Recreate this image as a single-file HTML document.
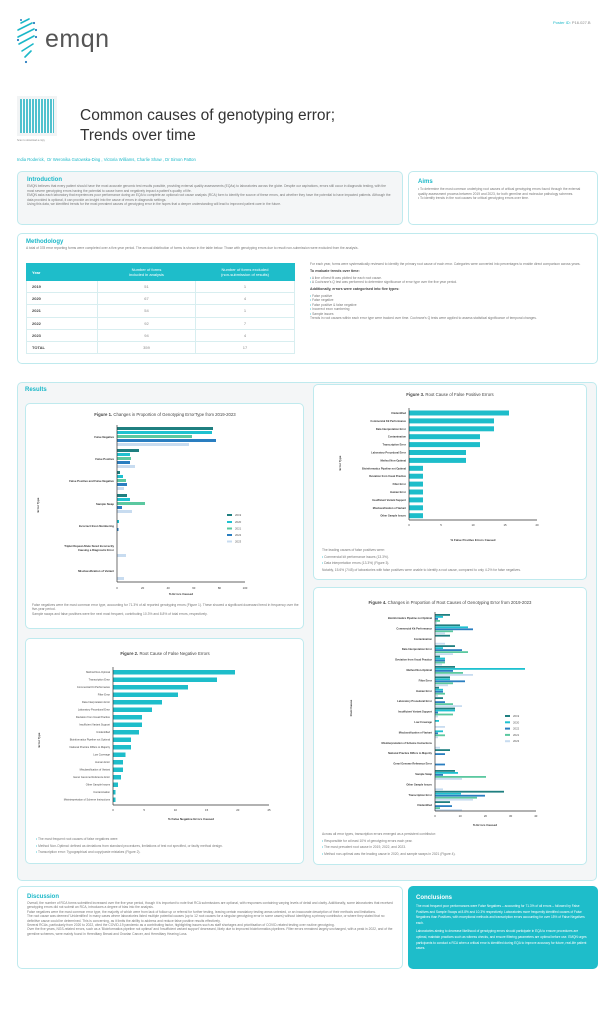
<!DOCTYPE html>
<html><head><meta charset="utf-8"><style>
*{margin:0;padding:0;box-sizing:border-box}
body{width:614px;height:1024px;background:#fff;font-family:"Liberation Sans",sans-serif;position:relative;overflow:hidden;color:#666}
.a{position:absolute}
.box{position:absolute;border:1px solid #bfeaee;border-radius:5px}
.h{color:#1bb8c8;font-weight:bold}
.t{font-size:3.3px;line-height:4.6px;color:#777}
table{border-collapse:collapse;font-size:4px}
td{border:0.5px solid #d8eef0;height:12.2px;text-align:center;color:#888}
td:first-child{text-align:left;padding-left:5px;font-weight:bold;color:#444}
</style></head><body>
<svg class="a" style="left:15px;top:17px" width="30" height="48" viewBox="0 0 30 48">
<g stroke="#1bb8c8" stroke-width="1.6" stroke-linecap="round" fill="none">
<path d="M6 6 L14 2"/><path d="M3 13 L17 6"/><path d="M3 20 L19 12"/><path d="M4 27 L19 19"/><path d="M7 34 L18 27"/><path d="M10 40 L16 34"/></g>
<g fill="#2a7ec0"><circle cx="6" cy="3" r="1"/><circle cx="19" cy="6" r="1.1"/><circle cx="21" cy="13" r="1.1"/><circle cx="21" cy="20" r="1.1"/><circle cx="3" cy="23" r="1.1"/><circle cx="11" cy="45" r="1.1"/></g></svg>
<div class="a" style="left:45px;top:25px;font-size:25px;color:#555;letter-spacing:0.5px">emqn</div>
<div class="a" style="left:553px;top:20px;font-size:4px;color:#1bb8c8">Poster ID: <span style="color:#888">P16.027.B</span></div>
<div class="a" style="left:17px;top:96px;width:40px;height:40px;background:#f2f4f5;padding:3px"><div style="width:34px;height:34px;background:repeating-linear-gradient(90deg,#2ab5c5 0 2px,#fff 2px 3px),#2ab5c5;opacity:.8"></div></div>
<div class="a" style="left:17px;top:139px;font-size:2.5px;color:#888">Scan to download a copy</div>
<div class="a" style="left:80px;top:106px;font-size:15.5px;line-height:20px;color:#333">Common causes of genotyping error;<br>Trends over time</div>
<div class="a" style="left:17px;top:157px;font-size:4.2px;color:#1bb8c8">India Roderick, &nbsp;Dr Weronika Gutowska-Ding , Victoria Williams, Charlie Shaw , Dr Simon Patton</div>

<div class="box" style="left:17px;top:171px;width:386px;height:54px;background:#f4f6f7;padding:5px 9px">
<div class="h" style="font-size:6px;margin-bottom:1px">Introduction</div>
<div class="t">EMQN believes that every patient should have the most accurate genomic test results possible, providing external quality assessments (EQAs) to laboratories across the globe. Despite our aspirations, errors still occur in diagnostic testing, with the most severe genotyping errors having the potential to cause harm and negatively impact a patient's quality of life.<br>EMQN asks each laboratory that experiences poor performance during an EQA to complete an optional root cause analysis (RCA) form to identify the source of these errors, and whether they have the potential to have impacted patients. Although the data provided is optional, it can provide an insight into the cause of errors in diagnostic settings.<br>Using this data, we identified trends for the most prevalent causes of genotyping error in the hopes that a deeper understanding will lead to improved patient care in the future.</div></div>
<div class="box" style="left:408px;top:171px;width:190px;height:54px;padding:7px 9px">
<div class="h" style="font-size:6px;margin-bottom:2px">Aims</div>
<div class="t">• To determine the most common underlying root causes of critical genotyping errors found through the external quality assessment process between 2019 and 2023, for both germline and molecular pathology schemes.<br>• To identify trends in the root causes for critical genotyping errors over time.</div></div>

<div class="box" style="left:17px;top:233px;width:581px;height:131px;padding:5px 8px">
<div class="h" style="font-size:6px">Methodology</div>
<div class="t" style="margin-top:1px">A total of 378 error reporting forms were completed over a five-year period. The annual distribution of forms is shown in the table below. Those with genotyping errors due to result non-submission were excluded from the analysis.</div></div>
<table class="a" style="left:26px;top:263px;width:269px">
<tr style="background:#1ebdca;color:#fff;height:17px"><td style="color:#fff;border-color:#1ebdca">Year</td><td style="color:#fff;border-color:#1ebdca;width:98px">Number of forms<br>included in analysis</td><td style="color:#fff;border-color:#1ebdca;width:99px">Number of forms excluded<br>(non-submission of results)</td></tr>
<tr><td>2019</td><td>51</td><td>1</td></tr><tr><td>2020</td><td>67</td><td>4</td></tr><tr><td>2021</td><td>54</td><td>1</td></tr><tr><td>2022</td><td>92</td><td>7</td></tr><tr><td>2023</td><td>94</td><td>4</td></tr><tr><td>TOTAL</td><td>359</td><td>17</td></tr></table>
<div class="a t" style="left:310px;top:262px;width:282px;line-height:4.5px">For each year, forms were systematically reviewed to identify the primary root cause of each error. Categories were converted into percentages to enable direct comparison across years.<br><b style="color:#444;font-size:3.6px;line-height:9px">To evaluate trends over time:</b><br><span style="color:#1bb8c8">•</span> A line of best fit was plotted for each root cause.<br><span style="color:#1bb8c8">•</span> A Cochrane's Q test was performed to determine significance of error type over the five year period.<br><b style="color:#444;font-size:3.6px;line-height:9px">Additionally, errors were categorised into five types:</b><br><span style="color:#1bb8c8">•</span> False positive<br><span style="color:#1bb8c8">•</span> False negative<br><span style="color:#1bb8c8">•</span> False positive &amp; false negative<br><span style="color:#1bb8c8">•</span> Incorrect exon numbering<br><span style="color:#1bb8c8">•</span> Sample issues<br>Trends in root causes within each error type were tracked over time. Cochrane's Q tests were applied to assess statistical significance of temporal changes.</div>

<div class="box" style="left:17px;top:382px;width:580px;height:499px;background:#f4f6f7"></div>
<div class="a h" style="left:25px;top:387px;font-size:6px">Results</div>
<div class="box" style="left:25px;top:403px;width:279px;height:226px;background:#fff"></div>
<div class="box" style="left:25px;top:638px;width:279px;height:226px;background:#fff"></div>
<div class="box" style="left:313px;top:384px;width:274px;height:196px;background:#fff"></div>
<div class="box" style="left:313px;top:587px;width:274px;height:278px;background:#fff"></div>

<div class="a t" style="left:32px;top:603px;width:268px;line-height:4.4px">False negatives were the most common error type, accounting for 71.3% of all reported genotyping errors (Figure 1). These showed a significant downward trend in frequency over the five-year period.<br>Sample swaps and false positives were the next most frequent, contributing 10.3% and 8.8% of total errors, respectively.</div>
<div class="a t" style="left:36px;top:836px;width:260px;line-height:6.5px"><span style="color:#1bb8c8">•</span> The most frequent root causes of false negatives were:<br><span style="color:#1bb8c8">•</span> Method Non-Optimal: defined as deviations from standard procedures, limitations of test not specified, or faulty method design.<br><span style="color:#1bb8c8">•</span> Transcription error: Typographical and copy/paste mistakes (Figure 2).</div>
<div class="a t" style="left:322px;top:547px;width:262px;line-height:6.5px">The leading causes of false positives were:<br><span style="color:#1bb8c8">•</span> Commercial kit performance issues (13.3%).<br><span style="color:#1bb8c8">•</span> Data interpretation errors (13.3%) (Figure 3).<br>Notably, 15.6% (7/45) of laboratories with false positives were unable to identify a root cause, compared to only 4.2% for false negatives.</div>
<div class="a t" style="left:322px;top:831px;width:262px;line-height:6.5px">Across all error types, transcription errors emerged as a persistent contributor:<br><span style="color:#1bb8c8">•</span> Responsible for at least 10% of genotyping errors each year.<br><span style="color:#1bb8c8">•</span> The most prevalent root cause in 2019, 2022, and 2023.<br><span style="color:#1bb8c8">•</span> Method non-optimal was the leading cause in 2020, and sample swaps in 2021 (Figure 4).</div>

<svg class="a" style="left:0;top:0" width="614" height="1024" font-family="Liberation Sans, sans-serif">
<!-- Fig1 -->
<text x="165" y="416" font-size="4.3" text-anchor="middle" fill="#444"><tspan font-weight="bold">Figure 1.</tspan> Changes in Proportion of Genotyping ErrorType from 2019-2023</text>
<g font-size="2.8" font-weight="bold" fill="#333" text-anchor="end">
<text x="114" y="438">False Negative</text><text x="114" y="460">False Positive</text><text x="114" y="482">False Positive and False Negative</text><text x="114" y="505">Sample Swap</text><text x="114" y="527">Incorrect Exon Numbering</text><text x="114" y="547">Triplet Repeat Allele Sized Incorrectly</text><text x="114" y="551">Causing a Diagnostic Error</text><text x="114" y="572">Misclassification of Variant</text></g>
<text transform="translate(39,505) rotate(-90)" font-size="3" font-weight="bold" fill="#333" text-anchor="middle">Error Type</text>
<g transform="translate(117,427)"><rect y="0" width="96" height="3" fill="#1f7f80"/><rect y="4" width="95" height="3" fill="#1ec1d0"/><rect y="8" width="75" height="3" fill="#5bc8a0"/><rect y="12" width="99" height="3" fill="#2a7ec0"/><rect y="16" width="72" height="3" fill="#c8dcf0"/></g>
<g transform="translate(117,449)"><rect y="0" width="22" height="3" fill="#1f7f80"/><rect y="4" width="13" height="3" fill="#1ec1d0"/><rect y="8" width="14" height="3" fill="#5bc8a0"/><rect y="12" width="13" height="3" fill="#2a7ec0"/><rect y="16" width="18" height="3" fill="#c8dcf0"/></g>
<g transform="translate(117,471)"><rect y="0" width="3" height="3" fill="#1f7f80"/><rect y="4" width="6" height="3" fill="#1ec1d0"/><rect y="8" width="9" height="3" fill="#5bc8a0"/><rect y="12" width="10" height="3" fill="#2a7ec0"/><rect y="16" width="7" height="3" fill="#c8dcf0"/></g>
<g transform="translate(117,494)"><rect y="0" width="10" height="3" fill="#1f7f80"/><rect y="4" width="13" height="3" fill="#1ec1d0"/><rect y="8" width="28" height="3" fill="#5bc8a0"/><rect y="12" width="5" height="3" fill="#2a7ec0"/><rect y="16" width="15" height="3" fill="#c8dcf0"/></g>
<g transform="translate(117,516)"><rect y="4" width="2" height="3" fill="#1ec1d0"/><rect y="12" width="1.5" height="3" fill="#2a7ec0"/></g>
<rect x="117" y="554" width="9" height="3" fill="#c8dcf0"/><rect x="117" y="577" width="7" height="3" fill="#c8dcf0"/>
<g stroke="#333" stroke-width="0.7"><line x1="117" y1="425" x2="117" y2="582"/><line x1="117" y1="582" x2="245" y2="582"/></g>
<g font-size="2.8" fill="#333" text-anchor="middle"><text x="117" y="589">0</text><text x="142.6" y="589">20</text><text x="168.2" y="589">40</text><text x="193.8" y="589">60</text><text x="219.4" y="589">80</text><text x="245" y="589">100</text></g>
<text x="181" y="595" font-size="3" font-weight="bold" fill="#333" text-anchor="middle">% Errors Caused</text>
<g font-size="2.8" fill="#555"><rect x="227" y="514" width="5" height="2" fill="#1f7f80"/><text x="235" y="516">2019</text><rect x="227" y="521" width="5" height="2" fill="#1ec1d0"/><text x="235" y="523">2020</text><rect x="227" y="527.5" width="5" height="2" fill="#5bc8a0"/><text x="235" y="529.5">2021</text><rect x="227" y="534" width="5" height="2" fill="#2a7ec0"/><text x="235" y="536">2022</text><rect x="227" y="540.5" width="5" height="2" fill="#c8dcf0"/><text x="235" y="542.5">2023</text></g>

<!-- Fig2 -->
<text x="165" y="655" font-size="4.3" text-anchor="middle" fill="#444"><tspan font-weight="bold">Figure 2.</tspan> Root Cause of False Negative Errors</text>
<g font-size="2.6" fill="#444" text-anchor="end">
<text x="110" y="673">Method Non-Optimal</text><text x="110" y="680.5">Transcription Error</text><text x="110" y="688">Commercial Kit Performance</text><text x="110" y="695.5">Filter Error</text><text x="110" y="703">Data Interpretation Error</text><text x="110" y="710.5">Laboratory Procedural Error</text><text x="110" y="718">Deviation from Usual Practice</text><text x="110" y="725.5">Insufficient Variant Support</text><text x="110" y="733">Unidentified</text><text x="110" y="740.5">Bioinformatics Pipeline not Optimal</text><text x="110" y="748">National Practice Differs to Majority</text><text x="110" y="755.5">Low Coverage</text><text x="110" y="763">Human Error</text><text x="110" y="770.5">Misclassification of Variant</text><text x="110" y="778">Gene/ Genome Reference Error</text><text x="110" y="785.5">Other Sample Issues</text><text x="110" y="793">Contamination</text><text x="110" y="800.5">Misinterpretation of Scheme Instructions</text></g>
<text transform="translate(40,740) rotate(-90)" font-size="3" font-weight="bold" fill="#333" text-anchor="middle">Error Type</text>
<g fill="#1ebdca">
<rect x="113" y="670" width="122" height="4.5"/><rect x="113" y="677.5" width="104" height="4.5"/><rect x="113" y="685" width="75" height="4.5"/><rect x="113" y="692.5" width="65" height="4.5"/><rect x="113" y="700" width="49" height="4.5"/><rect x="113" y="707.5" width="39" height="4.5"/><rect x="113" y="715" width="29" height="4.5"/><rect x="113" y="722.5" width="29" height="4.5"/><rect x="113" y="730" width="26" height="4.5"/><rect x="113" y="737.5" width="18" height="4.5"/><rect x="113" y="745" width="18" height="4.5"/><rect x="113" y="752.5" width="12.5" height="4.5"/><rect x="113" y="760" width="10" height="4.5"/><rect x="113" y="767.5" width="10" height="4.5"/><rect x="113" y="775" width="8" height="4.5"/><rect x="113" y="782.5" width="5" height="4.5"/><rect x="113" y="790" width="2.5" height="4.5"/><rect x="113" y="797.5" width="2.5" height="4.5"/></g>
<g stroke="#333" stroke-width="0.7"><line x1="113" y1="667" x2="113" y2="805"/><line x1="113" y1="805" x2="269" y2="805"/></g>
<g font-size="2.8" fill="#333" text-anchor="middle"><text x="113" y="811">0</text><text x="144.2" y="811">5</text><text x="175.4" y="811">10</text><text x="206.6" y="811">15</text><text x="237.8" y="811">20</text><text x="269" y="811">25</text></g>
<text x="191" y="820" font-size="3" font-weight="bold" fill="#333" text-anchor="middle">% False Negative Errors Caused</text>

<!-- Fig3 -->
<text x="450" y="396" font-size="4.3" text-anchor="middle" fill="#444"><tspan font-weight="bold">Figure 3.</tspan> Root Cause of False Positive Errors</text>
<g font-size="2.6" font-weight="bold" fill="#333" text-anchor="end">
<text x="406" y="414">Unidentified</text><text x="406" y="422">Commercial Kit Performance</text><text x="406" y="429.8">Data Interpretation Error</text><text x="406" y="437.7">Contamination</text><text x="406" y="445.6">Transcription Error</text><text x="406" y="453.5">Laboratory Procedural Error</text><text x="406" y="461.4">Method Non-Optimal</text><text x="406" y="469.3">Bioinformatics Pipeline not Optimal</text><text x="406" y="477.2">Deviation from Usual Practice</text><text x="406" y="485.1">Filter Error</text><text x="406" y="493">Human Error</text><text x="406" y="500.9">Insufficient Variant Support</text><text x="406" y="508.8">Misclassification of Variant</text><text x="406" y="516.7">Other Sample Issues</text></g>
<text transform="translate(341,463) rotate(-90)" font-size="3" font-weight="bold" fill="#333" text-anchor="middle">Error Type</text>
<g fill="#1ebdca">
<rect x="409" y="410.5" width="100" height="5"/><rect x="409" y="418.4" width="85" height="5"/><rect x="409" y="426.3" width="85" height="5"/><rect x="409" y="434.2" width="71" height="5"/><rect x="409" y="442.1" width="71" height="5"/><rect x="409" y="450" width="57" height="5"/><rect x="409" y="457.9" width="57" height="5"/><rect x="409" y="465.8" width="14" height="5"/><rect x="409" y="473.7" width="14" height="5"/><rect x="409" y="481.6" width="14" height="5"/><rect x="409" y="489.5" width="14" height="5"/><rect x="409" y="497.4" width="14" height="5"/><rect x="409" y="505.3" width="14" height="5"/><rect x="409" y="513.2" width="14" height="5"/></g>
<g stroke="#333" stroke-width="0.7"><line x1="409" y1="408" x2="409" y2="520"/><line x1="409" y1="520" x2="537" y2="520"/></g>
<g font-size="2.8" fill="#333" text-anchor="middle"><text x="409" y="526">0</text><text x="441" y="526">5</text><text x="473" y="526">10</text><text x="505" y="526">15</text><text x="537" y="526">20</text></g>
<text x="473" y="541" font-size="3" font-weight="bold" fill="#333" text-anchor="middle">% False Positive Errors Caused</text>

<!-- Fig4 -->
<text x="450" y="604" font-size="4.3" text-anchor="middle" fill="#444"><tspan font-weight="bold">Figure 4.</tspan> Changes in Proportion of Root Causes of Genotyping Error from 2019-2023</text>
<g font-size="2.6" font-weight="bold" fill="#333" text-anchor="end">
<text x="432" y="619">Bioinformatics Pipeline not Optimal</text><text x="432" y="629.4">Commercial Kit Performance</text><text x="432" y="639.8">Contamination</text><text x="432" y="650.2">Data Interpretation Error</text><text x="432" y="660.6">Deviation from Usual Practice</text><text x="432" y="671">Method Non-Optimal</text><text x="432" y="681.4">Filter Error</text><text x="432" y="691.8">Human Error</text><text x="432" y="702.2">Laboratory Procedural Error</text><text x="432" y="712.6">Insufficient Variant Support</text><text x="432" y="723">Low Coverage</text><text x="432" y="733.4">Misclassification of Variant</text><text x="432" y="743.8">Misinterpretation of Scheme Instructions</text><text x="432" y="754.2">National Practice Differs to Majority</text><text x="432" y="764.6">Gene/ Genome Reference Error</text><text x="432" y="775">Sample Swap</text><text x="432" y="785.4">Other Sample Issues</text><text x="432" y="795.8">Transcription Error</text><text x="432" y="806.2">Unidentified</text></g>
<text transform="translate(352,708) rotate(-90)" font-size="3" font-weight="bold" fill="#333" text-anchor="middle">Root Cause</text>
<g transform="translate(435,614)"><rect y="0" width="15" height="1.8" fill="#1f7f80"/><rect y="2" width="8" height="1.8" fill="#1ec1d0"/><rect y="4" width="3" height="1.8" fill="#2a7ec0"/><rect y="6" width="5" height="1.8" fill="#5bc8a0"/><rect y="8" width="2" height="1.8" fill="#c8dcf0"/></g>
<g transform="translate(435,624.4)"><rect y="0" width="25" height="1.8" fill="#1f7f80"/><rect y="2" width="33" height="1.8" fill="#1ec1d0"/><rect y="4" width="38" height="1.8" fill="#2a7ec0"/><rect y="6" width="18" height="1.8" fill="#5bc8a0"/><rect y="8" width="10" height="1.8" fill="#c8dcf0"/></g>
<g transform="translate(435,634.8)"><rect y="0" width="15" height="1.8" fill="#1f7f80"/><rect y="8" width="10" height="1.8" fill="#c8dcf0"/></g>
<g transform="translate(435,645.2)"><rect y="0" width="20" height="1.8" fill="#1f7f80"/><rect y="2" width="8" height="1.8" fill="#1ec1d0"/><rect y="4" width="27" height="1.8" fill="#2a7ec0"/><rect y="6" width="33" height="1.8" fill="#5bc8a0"/><rect y="8" width="18" height="1.8" fill="#c8dcf0"/></g>
<g transform="translate(435,655.6)"><rect y="0" width="5" height="1.8" fill="#1f7f80"/><rect y="2" width="10" height="1.8" fill="#1ec1d0"/><rect y="4" width="10" height="1.8" fill="#2a7ec0"/><rect y="6" width="10" height="1.8" fill="#5bc8a0"/><rect y="8" width="7" height="1.8" fill="#c8dcf0"/></g>
<g transform="translate(435,666)"><rect y="0" width="20" height="1.8" fill="#1f7f80"/><rect y="2" width="90" height="1.8" fill="#1ec1d0"/><rect y="4" width="18" height="1.8" fill="#2a7ec0"/><rect y="6" width="28" height="1.8" fill="#5bc8a0"/><rect y="8" width="38" height="1.8" fill="#c8dcf0"/></g>
<g transform="translate(435,676.4)"><rect y="0" width="15" height="1.8" fill="#1f7f80"/><rect y="2" width="15" height="1.8" fill="#1ec1d0"/><rect y="4" width="30" height="1.8" fill="#2a7ec0"/><rect y="6" width="18" height="1.8" fill="#5bc8a0"/><rect y="8" width="13" height="1.8" fill="#c8dcf0"/></g>
<g transform="translate(435,686.8)"><rect y="0" width="4" height="1.8" fill="#1f7f80"/><rect y="2" width="8" height="1.8" fill="#1ec1d0"/><rect y="4" width="8" height="1.8" fill="#2a7ec0"/><rect y="6" width="10" height="1.8" fill="#5bc8a0"/><rect y="8" width="3" height="1.8" fill="#c8dcf0"/></g>
<g transform="translate(435,697.2)"><rect y="0" width="8" height="1.8" fill="#1f7f80"/><rect y="4" width="10" height="1.8" fill="#2a7ec0"/><rect y="6" width="18" height="1.8" fill="#5bc8a0"/><rect y="8" width="27" height="1.8" fill="#c8dcf0"/></g>
<g transform="translate(435,707.6)"><rect y="0" width="20" height="1.8" fill="#1f7f80"/><rect y="2" width="20" height="1.8" fill="#1ec1d0"/><rect y="4" width="3" height="1.8" fill="#2a7ec0"/><rect y="6" width="18" height="1.8" fill="#5bc8a0"/><rect y="8" width="3" height="1.8" fill="#c8dcf0"/></g>
<g transform="translate(435,718)"><rect y="2" width="4" height="1.8" fill="#1ec1d0"/><rect y="8" width="10" height="1.8" fill="#c8dcf0"/></g>
<g transform="translate(435,728.4)"><rect y="2" width="8" height="1.8" fill="#1ec1d0"/><rect y="4" width="3" height="1.8" fill="#2a7ec0"/><rect y="6" width="10" height="1.8" fill="#5bc8a0"/><rect y="8" width="3" height="1.8" fill="#c8dcf0"/></g>
<g transform="translate(435,738.8)"><rect y="8" width="5" height="1.8" fill="#c8dcf0"/></g>
<g transform="translate(435,749.2)"><rect y="0" width="15" height="1.8" fill="#1f7f80"/><rect y="4" width="10" height="1.8" fill="#2a7ec0"/></g>
<g transform="translate(435,759.6)"><rect y="4" width="10" height="1.8" fill="#2a7ec0"/></g>
<g transform="translate(435,770)"><rect y="0" width="20" height="1.8" fill="#1f7f80"/><rect y="2" width="23" height="1.8" fill="#1ec1d0"/><rect y="4" width="8" height="1.8" fill="#2a7ec0"/><rect y="6" width="51" height="1.8" fill="#5bc8a0"/><rect y="8" width="27" height="1.8" fill="#c8dcf0"/></g>
<g transform="translate(435,780.4)"><rect y="8" width="8" height="1.8" fill="#c8dcf0"/></g>
<g transform="translate(435,790.8)"><rect y="0" width="69" height="1.8" fill="#1f7f80"/><rect y="2" width="26" height="1.8" fill="#1ec1d0"/><rect y="4" width="50" height="1.8" fill="#2a7ec0"/><rect y="6" width="42" height="1.8" fill="#5bc8a0"/><rect y="8" width="38" height="1.8" fill="#c8dcf0"/></g>
<g transform="translate(435,801.2)"><rect y="0" width="15" height="1.8" fill="#1f7f80"/><rect y="4" width="17" height="1.8" fill="#2a7ec0"/><rect y="6" width="5" height="1.8" fill="#5bc8a0"/><rect y="8" width="27" height="1.8" fill="#c8dcf0"/></g>
<g stroke="#333" stroke-width="0.7"><line x1="435" y1="612" x2="435" y2="811"/><line x1="435" y1="811" x2="536" y2="811"/></g>
<g font-size="2.8" fill="#333" text-anchor="middle"><text x="435" y="817">0</text><text x="460.2" y="817">10</text><text x="485.4" y="817">20</text><text x="510.6" y="817">30</text><text x="535.8" y="817">40</text></g>
<text x="485" y="826" font-size="3" font-weight="bold" fill="#333" text-anchor="middle">% Errors Caused</text>
<g font-size="2.8" fill="#555"><rect x="505" y="715" width="5" height="2" fill="#1f7f80"/><text x="513" y="717">2019</text><rect x="505" y="721.3" width="5" height="2" fill="#1ec1d0"/><text x="513" y="723.3">2020</text><rect x="505" y="727.6" width="5" height="2" fill="#2a7ec0"/><text x="513" y="729.6">2022</text><rect x="505" y="733.9" width="5" height="2" fill="#5bc8a0"/><text x="513" y="735.9">2021</text><rect x="505" y="740.2" width="5" height="2" fill="#c8dcf0"/><text x="513" y="742.2">2023</text></g>
</svg>

<div class="box" style="left:17px;top:886px;width:386px;height:83px;padding:7px 9px">
<div class="h" style="font-size:6px;margin-bottom:1px">Discussion</div>
<div class="t" style="line-height:4.4px">Overall, the number of RCA forms submitted increased over the five year period, though it is important to note that RCA submissions are optional, with responses containing varying levels of detail and clarity. Additionally, some laboratories that received genotyping errors did not submit an RCA, introduces a degree of bias into the analysis.<br>False negatives were the most common error type, the majority of which were from lack of follow up or referral for further testing, leaving certain mandatory testing areas untested, or an inaccurate description of their methods and limitations.<br>The root cause was deemed 'Unidentified' in many cases where laboratories listed multiple potential causes (up to 12 root causes for a singular genotyping error in some cases) without identifying a primary contributor, or where they stated that no definitive cause could be determined. This is concerning, as it limits the ability to address and reduce false positive results effectively.<br>Several RCAs, particularly from 2020 to 2022, cited the COVID-19 pandemic as a contributing factor, highlighting issues such as staff shortages and prioritisation of COVID-related testing over routine genotyping.<br>Over the five years, NGS-related errors, such as a 'Bioinformatics pipeline not optimal' and 'insufficient variant support' decreased, likely due to improved bioinformatics pipelines. Filter errors remained largely unchanged, with a peak in 2022, and of the germline schemes, were mainly found in Hereditary Breast and Ovarian Cancer, and Hereditary Hearing Loss.</div></div>
<div class="a" style="left:408px;top:886px;width:190px;height:83px;background:#1ebdca;border-radius:5px;padding:9px 8px;color:#fff">
<div style="font-size:6px;font-weight:bold;margin-bottom:3px">Conclusions</div>
<div style="font-size:3.2px;line-height:5.6px">The most frequent poor performances were False Negatives – accounting for 71.3% of all errors – followed by False Positives and Sample Swaps at 8.8% and 10.3% respectively. Laboratories more frequently identified causes of False Negatives than Positives, with exceptional methods and transcription errors accounting for over 15% of False Negatives each.</div>
<div style="font-size:3.2px;line-height:5.6px;margin-top:3px">Laboratories aiming to decrease likelihood of genotyping errors should participate in EQA to ensure procedures are optimal, maintain practices such as witness checks, and ensure filtering parameters are optimal before use. EMQN urges participants to conduct a RCA when a critical error is identified during EQA to improve accuracy for future, real-life patient cases.</div></div>
</body></html>
